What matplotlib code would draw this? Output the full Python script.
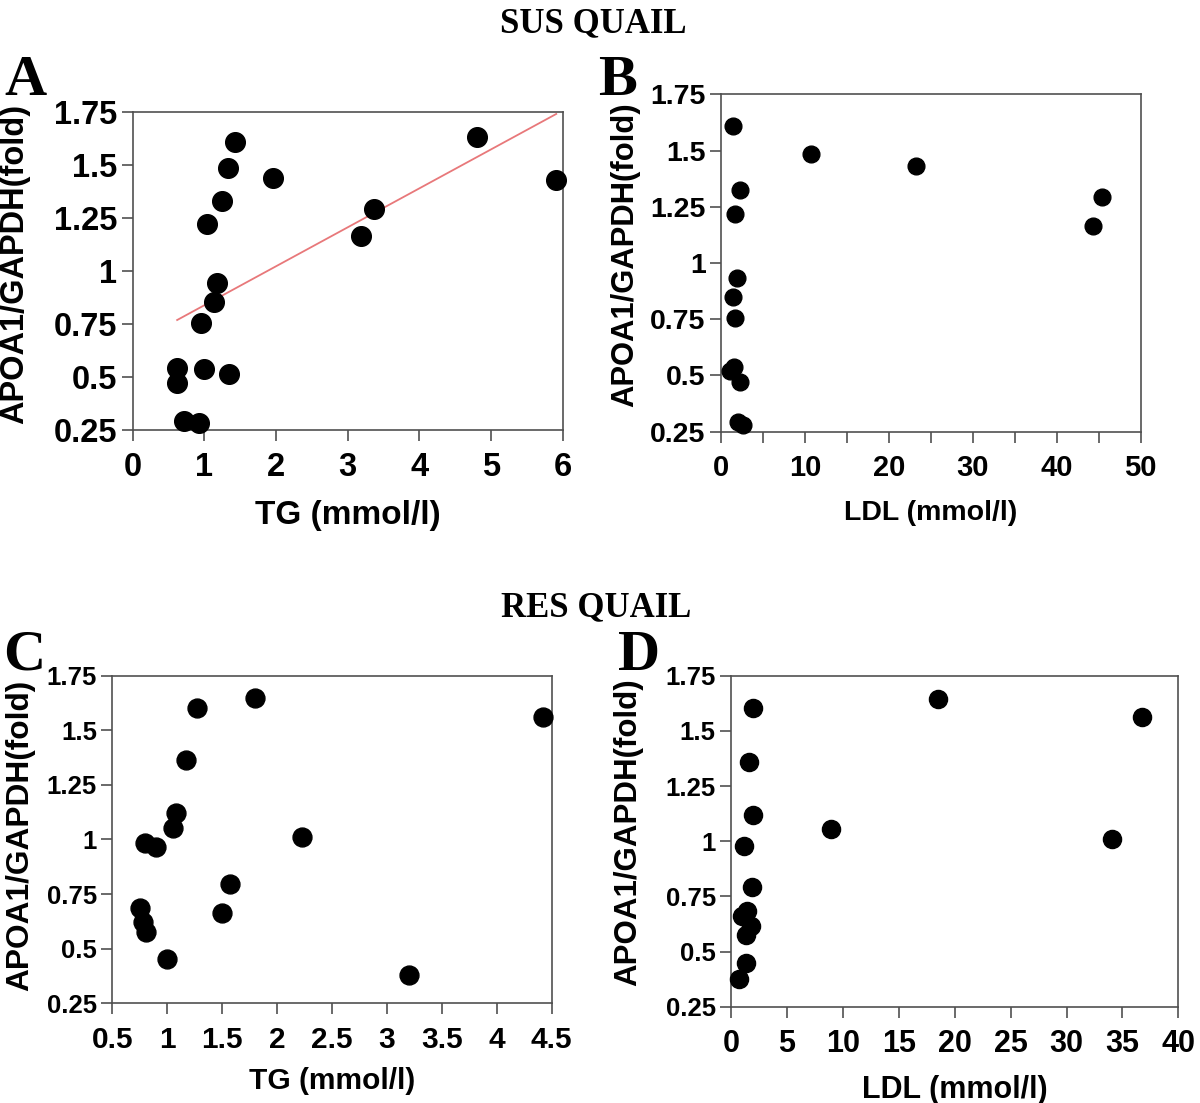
import matplotlib
matplotlib.use("Agg")
import matplotlib.pyplot as plt
from matplotlib.ticker import FuncFormatter

# SUS quail, panel A: TG vs APOA1/GAPDH
sus_tg = [1.43, 1.33, 1.96, 1.25, 1.04, 1.18, 1.13, 0.95, 0.62, 0.62,
          0.99, 1.34, 0.71, 0.92, 3.19, 3.37, 4.81, 5.90]
sus_tg_apoa1 = [1.609, 1.483, 1.436, 1.329, 1.221, 0.941, 0.855, 0.756, 0.544, 0.473,
                0.536, 0.514, 0.292, 0.284, 1.164, 1.291, 1.632, 1.428]
# regression line drawn in panel A (end points)
sus_fit_x = [0.62, 5.91]
sus_fit_y = [0.768, 1.739]

# SUS quail, panel B: LDL vs APOA1/GAPDH
sus_ldl = [1.47, 10.68, 23.19, 2.26, 1.67, 45.35, 44.28, 1.87, 1.47, 1.67,
           1.59, 1.07, 2.26, 2.07, 2.58]
sus_ldl_apoa1 = [1.609, 1.485, 1.433, 1.325, 1.216, 1.292, 1.166, 0.932, 0.847, 0.757,
                 0.536, 0.52, 0.472, 0.295, 0.28]

# RES quail, panel C: TG vs APOA1/GAPDH
res_tg = [1.80, 1.27, 4.42, 1.17, 1.08, 1.05, 0.80, 0.90, 2.23, 1.57,
          1.50, 0.75, 0.78, 0.81, 1.00, 3.20]
res_tg_apoa1 = [1.649, 1.603, 1.562, 1.364, 1.12, 1.054, 0.982, 0.967, 1.013, 0.795,
                0.662, 0.688, 0.621, 0.578, 0.453, 0.380]

# RES quail, panel D: LDL vs APOA1/GAPDH
res_ldl = [18.54, 2.0, 36.78, 1.64, 2.0, 8.91, 34.1, 1.16, 1.85, 1.4,
           1.01, 1.76, 1.34, 1.34, 0.75]
res_ldl_apoa1 = [1.644, 1.602, 1.561, 1.36, 1.119, 1.054, 1.01, 0.978, 0.791, 0.685,
                 0.661, 0.617, 0.575, 0.449, 0.375]

y_ticks = [0.25, 0.5, 0.75, 1, 1.25, 1.5, 1.75]
ylabel = "APOA1/GAPDH(fold)"

SANS = "Liberation Sans"
SERIF = "Liberation Serif"
SPINE = "#505050"

fig = plt.figure(figsize=(12, 11.03), dpi=100)


def setup(ax, xlim, xticks, xlabel, xtick_fs, ytick_fs, xlab_fs, ylab_fs, ylab_xy, xlab_y):
    ax.set_xlim(*xlim)
    ax.set_ylim(0.25, 1.75)
    ax.set_xticks(xticks)
    ax.set_yticks(y_ticks)
    fmt = FuncFormatter(lambda v, p: f"{v:g}")
    ax.xaxis.set_major_formatter(fmt)
    ax.yaxis.set_major_formatter(fmt)
    for s in ax.spines.values():
        s.set_color(SPINE)
        s.set_linewidth(1.2)
    ax.tick_params(axis="both", direction="out", length=8, width=1.2, color=SPINE)
    ax.tick_params(axis="x", pad=8)
    ax.tick_params(axis="y", pad=3)
    for lab in ax.get_xticklabels():
        lab.set_fontfamily(SANS)
        lab.set_fontweight("bold")
        lab.set_fontsize(xtick_fs)
    for lab in ax.get_yticklabels():
        lab.set_fontfamily(SANS)
        lab.set_fontweight("bold")
        lab.set_fontsize(ytick_fs)
    # xlabel: coordinate is the top of the text; ylabel: coordinate is its right edge
    ax.set_xlabel(xlabel, fontfamily=SANS, fontweight="bold", fontsize=xlab_fs)
    ax.set_ylabel(ylabel, fontfamily=SANS, fontweight="bold", fontsize=ylab_fs)
    ax.xaxis.set_label_coords(0.5, xlab_y)
    ax.yaxis.set_label_coords(*ylab_xy)


# panel A
axA = fig.add_axes([0.1106, 0.6102, 0.3583, 0.2886])
axA.plot(sus_fit_x, sus_fit_y, color="#e8787a", lw=1.3, zorder=2)
axA.scatter(sus_tg, sus_tg_apoa1, s=200, color="black", zorder=3, clip_on=False)
setup(axA, (0, 6), range(0, 7), "TG (mmol/l)", 23.5, 23.5, 24, 23.5,
      (-0.238, 0.52), -0.22)

# panel B
axB = fig.add_axes([0.6008, 0.6086, 0.3497, 0.3059])
axB.scatter(sus_ldl, sus_ldl_apoa1, s=145, color="black", zorder=3, clip_on=False)
setup(axB, (0, 50), range(0, 51, 10), "LDL (mmol/l)", 21, 20.5, 20.5, 22.3,
      (-0.193, 0.525), -0.202)
axB.set_xticks(range(0, 51, 5), minor=True)
axB.tick_params(axis="x", which="minor", length=8, width=1.2, color=SPINE)

# panel C
axC = fig.add_axes([0.0936, 0.0904, 0.3662, 0.2970])
axC.scatter(res_tg, res_tg_apoa1, s=185, color="black", zorder=3, clip_on=False)
setup(axC, (0.5, 4.5), [0.5, 1, 1.5, 2, 2.5, 3, 3.5, 4, 4.5], "TG (mmol/l)",
      21.5, 18.5, 21.5, 22.8, (-0.176, 0.514), -0.194)

# panel D
axD = fig.add_axes([0.6092, 0.0873, 0.3728, 0.3001])
axD.scatter(res_ldl, res_ldl_apoa1, s=170, color="black", zorder=3, clip_on=False)
setup(axD, (0, 40), range(0, 41, 5), "LDL (mmol/l)", 22, 18.5, 22, 22.5,
      (-0.197, 0.528), -0.206)

# titles and panel letters
fig.text(0.4946, 0.971, "SUS QUAIL", fontfamily=SERIF, fontweight="bold",
         fontsize=25, ha="center", va="baseline")
fig.text(0.497, 0.4415, "RES QUAIL", fontfamily=SERIF, fontweight="bold",
         fontsize=25, ha="center", va="baseline")
for x, y, letter in [(0.004, 0.914, "A"), (0.498, 0.914, "B"),
                     (0.0025, 0.3926, "C"), (0.515, 0.3926, "D")]:
    fig.text(x, y, letter, fontfamily=SERIF, fontweight="bold",
             fontsize=42, ha="left", va="baseline")

fig.savefig("out.png", dpi=100, facecolor="white")
